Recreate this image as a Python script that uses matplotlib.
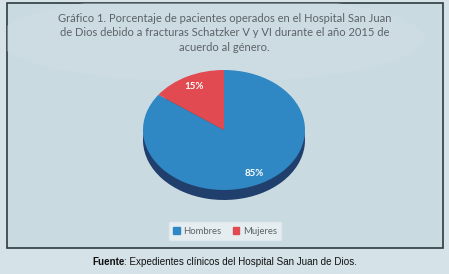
import matplotlib
matplotlib.use("Agg")
import matplotlib.pyplot as plt
import matplotlib.patches as mpatches

# data
labels = ["Hombres", "Mujeres"]
values = [85, 15]
top_colors = ["#2f87c4", "#e04a50"]
side_colors = ["#213f6c", "#8a2a2e"]

title = ("Gráfico 1. Porcentaje de pacientes operados en el Hospital San Juan\n"
         "de Dios debido a fracturas Schatzker V y VI durante el año 2015 de\n"
         "acuerdo al género.")
source_bold = "Fuente"
source_rest = ": Expedientes clínicos del Hospital San Juan de Dios."

W, H = 449, 274
fig = plt.figure(figsize=(W / 100, H / 100), dpi=100)
fig.patch.set_facecolor("#d5e2e7")

# framed panel
panel = mpatches.Rectangle((7 / W, 1 - 248 / H), 436 / W, 245 / H,
                           transform=fig.transFigure, facecolor="#c9dae1",
                           edgecolor="#2e3a3f", linewidth=1.2, zorder=-3)
fig.patches.append(panel)
# soft lighter wave behind the title
wave = mpatches.Ellipse((0.47, 0.86), 0.95, 0.32, transform=fig.transFigure,
                        facecolor="#d3e1e6", edgecolor="none", alpha=0.35, zorder=-2)
fig.patches.append(wave)
wave.set_clip_path(panel.get_path(), panel.get_transform())

fig.text(0.5, 1 - 33 / H, title, ha="center", va="center", fontsize=8,
         family="Lato", color="#5b6368", linespacing=1.35)

# pie axes (ellipse flattened through axes aspect)
ax = fig.add_axes([143 / W, 1 - 200 / H, 162 / W, 130 / H], zorder=2)
ax.patch.set_visible(False)
depth = 0.167

side = ax.pie(values, colors=side_colors, startangle=90, counterclock=False,
              center=(0, -depth), radius=1, frame=True)
for w in side[0]:
    w.set_zorder(1)
wedges, texts, autotexts = ax.pie(values, colors=top_colors, startangle=90,
                                  counterclock=False, radius=1, frame=True,
                                  autopct="%d%%", pctdistance=0.82,
                                  textprops=dict(color="white", fontsize=7,
                                                 fontweight="bold", family="Lato"))
for w in wedges:
    w.set_zorder(2)
for t in autotexts:
    t.set_zorder(3)
ax.set_aspect("auto")
ax.set_xlim(-1, 1)
ax.set_ylim(-1.167, 1)
ax.axis("off")

handles = [mpatches.Patch(color=c, label=l) for c, l in zip(top_colors, labels)]
leg = fig.legend(handles=handles, loc="center", bbox_to_anchor=(225 / W, 1 - 231 / H),
                 ncol=2, frameon=True, handlelength=0.7, handleheight=0.7,
                 handletextpad=0.35, columnspacing=1.2, borderpad=0.45,
                 fancybox=False, prop=dict(family="Lato", size=6.8))
leg.get_frame().set_facecolor("#edf3f6")
leg.get_frame().set_edgecolor("#e2eaee")
for t in leg.get_texts():
    t.set_color("#5b6368")

t1 = fig.text(92 / W, 1 - 262 / H, source_bold, ha="left", va="center", fontsize=7.1,
              family="Liberation Sans", fontweight="bold", color="#111111")
plt.annotate(source_rest, xy=(1, 0), xycoords=t1, va="bottom", ha="left",
             fontsize=7.1, family="Liberation Sans", color="#111111",
             annotation_clip=False)

fig.savefig("out.png", dpi=100, facecolor=fig.get_facecolor())
